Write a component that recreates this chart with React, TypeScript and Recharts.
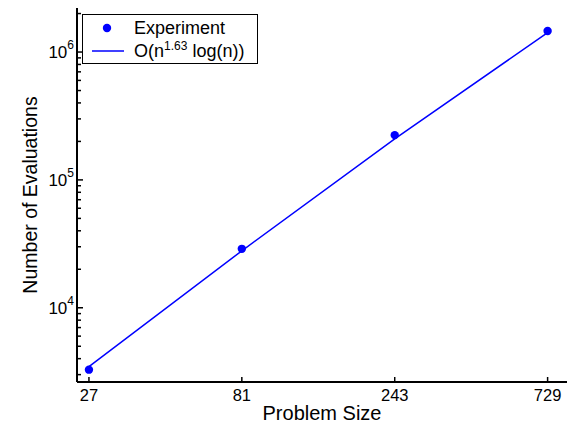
import React from 'react';
import { LineChart, Line, XAxis, YAxis, Legend } from 'recharts';

const problemSizes = [27, 81, 243, 729];
const experimentEvals = [3280, 28900, 224000, 1460000];
const fittedEvals = [3460, 27900, 209000, 1420000];
const xTicks = [27, 81, 243, 729];
const yDecades = [3, 4, 5, 6];

const FONT = '"Liberation Sans", Arial, Helvetica, sans-serif';
const BLUE = '#0000ff';

const data = problemSizes.map((n, i) => ({
  n,
  experiment: experimentEvals[i],
  fit: fittedEvals[i],
}));

// major + minor ticks for the log y axis
const yTicks: number[] = [];
yDecades.forEach(d => {
  for (let m = 1; m <= 9; m++) {
    const v = m * Math.pow(10, d);
    if (v >= 2700 && v <= 2200000) yTicks.push(v);
  }
});

const BottomTick = (props: any) => {
  const { x, y, payload } = props;
  return (
    <g>
      <line x1={x} x2={x} y1={y} y2={y - 5} stroke="#000" strokeWidth={1.5} />
      <text x={x} y={y + 19} textAnchor="middle" fontSize={16.5} fontFamily={FONT} fill="#000">
        {payload.value}
      </text>
    </g>
  );
};

const TopTick = (props: any) => {
  const { x, y } = props;
  return <line x1={x} x2={x} y1={y} y2={y + 5} stroke="#000" strokeWidth={1.5} />;
};

const LeftTick = (props: any) => {
  const { x, y, payload } = props;
  const v = payload.value;
  const exp = Math.round(Math.log10(v));
  const major = Math.abs(Math.pow(10, exp) - v) < 1e-6 * v;
  return (
    <g>
      <line x1={x} x2={x + (major ? 6 : 4)} y1={y} y2={y} stroke="#000" strokeWidth={1.5} />
      {major && (
        <text x={x - 3} y={y + 6} textAnchor="end" fontSize={17} fontFamily={FONT} fill="#000">
          10
          <tspan dy={-9} fontSize={12}>{exp}</tspan>
        </text>
      )}
    </g>
  );
};

const LegendBox = () => (
  <div
    style={{
      position: 'relative',
      width: 176,
      height: 50,
      boxSizing: 'border-box',
      border: '1.5px solid #000',
      background: '#fff',
      fontFamily: FONT,
      fontSize: 18,
      color: '#000',
    }}
  >
    <svg width={176} height={50} style={{ position: 'absolute', left: -1.5, top: -1.5 }}>
      <circle cx={25} cy={14} r={4.2} fill={BLUE} />
      <line x1={10} x2={42} y1={37} y2={37} stroke={BLUE} strokeWidth={1.5} />
    </svg>
    <div style={{ position: 'absolute', left: 51, top: 2, lineHeight: '22px', whiteSpace: 'nowrap' }}>Experiment</div>
    <div style={{ position: 'absolute', left: 51, top: 25, lineHeight: '22px', whiteSpace: 'nowrap' }}>
      O(n<span style={{ fontSize: 12, position: 'relative', top: -7 }}>1.63</span> log(n))
    </div>
  </div>
);

export default function App() {
  return (
    <div style={{ position: 'absolute', left: 0, top: 0, width: 567, height: 425, background: '#fff' }}>
      <LineChart width={567} height={425} data={data} margin={{ top: 8, right: 0, bottom: 0, left: 0 }}>
        <XAxis
          dataKey="n"
          type="number"
          scale="log"
          domain={[24.78, 838]}
          allowDataOverflow
          ticks={xTicks}
          tick={<BottomTick />}
          tickLine={false}
          tickSize={0}
          tickMargin={0}
          height={43}
          axisLine={{ stroke: '#000', strokeWidth: 2 }}
          label={{
            content: (p: any) => {
              const vb = p.viewBox;
              return (
                <text x={vb.x + vb.width / 2} y={vb.y + 38} textAnchor="middle" fontSize={20} fontFamily={FONT} fill="#000">
                  Problem Size
                </text>
              );
            },
          }}
        />
        <XAxis
          xAxisId="top"
          orientation="top"
          dataKey="n"
          type="number"
          scale="log"
          domain={[24.78, 838]}
          allowDataOverflow
          ticks={xTicks}
          tick={<TopTick />}
          tickLine={false}
          tickSize={0}
          tickMargin={0}
          height={0}
          axisLine={{ stroke: '#000', strokeWidth: 2 }}
        />
        <YAxis
          type="number"
          scale="log"
          domain={[2627, 2210000]}
          allowDataOverflow
          ticks={yTicks}
          interval={0}
          tick={<LeftTick />}
          tickLine={false}
          tickSize={0}
          tickMargin={0}
          width={77}
          axisLine={{ stroke: '#000', strokeWidth: 2 }}
          label={{
            content: (p: any) => {
              const vb = p.viewBox;
              const cx = 30;
              const cy = vb.y + vb.height / 2;
              return (
                <text
                  x={cx}
                  y={cy}
                  transform={`rotate(-90, ${cx}, ${cy})`}
                  textAnchor="middle"
                  dominantBaseline="central"
                  fontSize={19.5}
                  fontFamily={FONT}
                  fill="#000"
                >
                  Number of Evaluations
                </text>
              );
            },
          }}
        />
        <Legend
          layout="vertical"
          align="center"
          verticalAlign="middle"
          content={<LegendBox />}
          wrapperStyle={{ left: 82, top: 14, width: 176, height: 50 }}
        />
        <Line
          dataKey="fit"
          type="linear"
          stroke={BLUE}
          strokeWidth={1.5}
          dot={false}
          activeDot={false}
          isAnimationActive={false}
        />
        <Line
          dataKey="experiment"
          type="linear"
          stroke="none"
          dot={{ r: 4.2, fill: BLUE, stroke: 'none' }}
          activeDot={false}
          isAnimationActive={false}
        />
      </LineChart>
    </div>
  );
}
